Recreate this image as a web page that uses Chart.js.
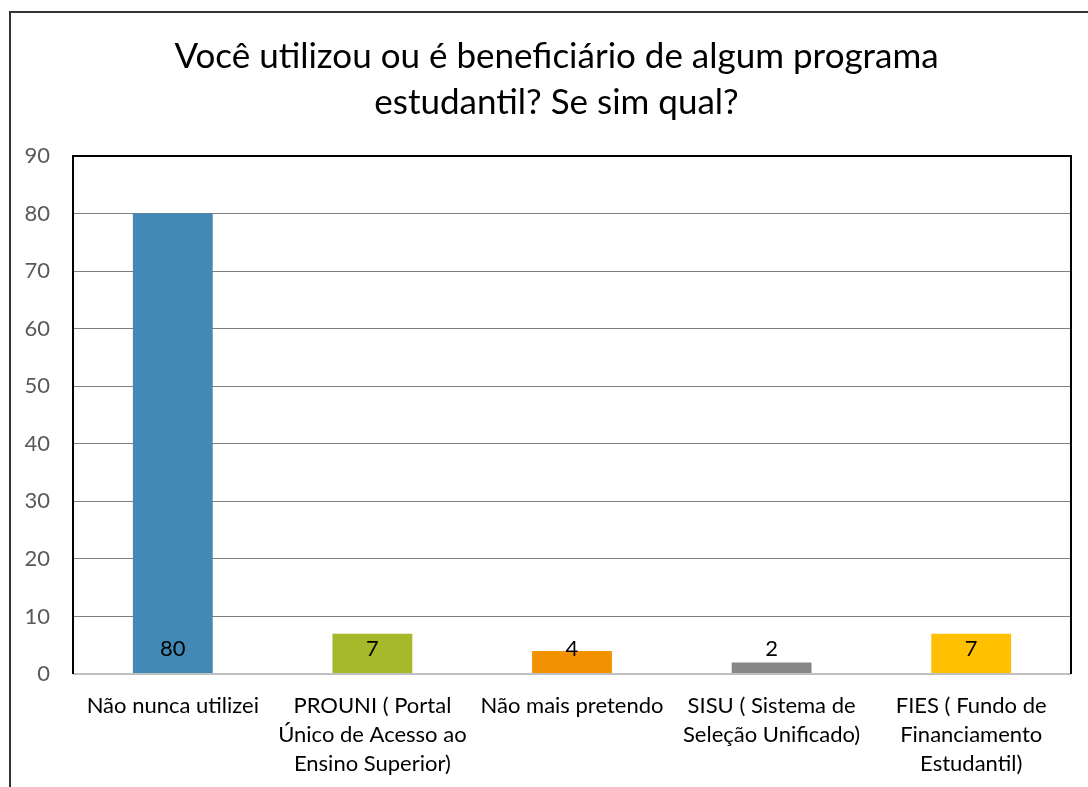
<!DOCTYPE html>
<html><head><meta charset="utf-8">
<script src="https://cdn.jsdelivr.net/npm/chart.js@4.4.0/dist/chart.umd.min.js"></script>
<style>html,body{margin:0;padding:0;background:#fff;}#wrap{width:1088px;height:787px;position:relative;}</style>
</head><body><div id="wrap"><canvas id="c" width="1088" height="787"></canvas></div>
<script>
const categories = [
  "Não nunca utilizei",
  ["PROUNI ( Portal", "Único de Acesso ao", "Ensino Superior)"],
  "Não mais pretendo",
  ["SISU ( Sistema de", "Seleção Unificado)"],
  ["FIES ( Fundo de", "Financiamento", "Estudantil)"]
];
const values = [80, 7, 4, 2, 7];
const barColors = ["#4289B5", "#A5B92A", "#F39200", "#878787", "#FFC000"];
const titleLines = ["Você utilizou ou é beneficiário de algum programa", "estudantil? Se sim qual?"];
const yMin = 0, yMax = 90, yStep = 10;

const FONT = "Lato, 'Open Sans', sans-serif";

const framePlugin = {
  id: 'frame',
  afterLayout(chart) {
    const t = chart.titleBlock;
    if (t) { t.left += 42; t.width -= 42; }
  },
  beforeDraw(chart) {
    const ctx = chart.ctx;
    ctx.save();
    ctx.strokeStyle = '#333';
    ctx.lineWidth = 2;
    ctx.beginPath();
    ctx.moveTo(10, 787);
    ctx.lineTo(10, 12);
    ctx.lineTo(1088, 12);
    ctx.stroke();
    ctx.restore();
  },
  afterDatasetsDraw(chart) {
    const ctx = chart.ctx, a = chart.chartArea;
    ctx.save();
    ctx.strokeStyle = '#BFBFBF';
    ctx.lineWidth = 2;
    ctx.beginPath();
    ctx.moveTo(a.left, a.bottom);
    ctx.lineTo(a.right, a.bottom);
    ctx.stroke();
    ctx.strokeStyle = '#000';
    ctx.lineWidth = 2;
    ctx.beginPath();
    ctx.moveTo(a.left, a.bottom);
    ctx.lineTo(a.left, a.top);
    ctx.lineTo(a.right, a.top);
    ctx.lineTo(a.right, a.bottom);
    ctx.stroke();
    ctx.fillStyle = '#000';
    ctx.font = "22px " + FONT;
    ctx.textAlign = 'center';
    ctx.textBaseline = 'middle';
    const meta = chart.getDatasetMeta(0);
    meta.data.forEach((bar, i) => {
      ctx.fillText(String(values[i]), bar.x, a.bottom - 25);
    });
    ctx.restore();
  }
};

new Chart(document.getElementById('c'), {
  type: 'bar',
  data: {
    labels: categories,
    datasets: [{
      data: values,
      backgroundColor: barColors,
      borderWidth: 0,
      categoryPercentage: 1,
      barPercentage: 0.4
    }]
  },
  options: {
    responsive: false,
    animation: false,
    devicePixelRatio: 1,
    layout: { padding: { left: 0, right: 17, top: 0, bottom: 0 } },
    plugins: {
      legend: { display: false },
      tooltip: { enabled: false },
      title: {
        display: true,
        text: titleLines,
        color: '#000',
        font: { family: FONT, size: 35, weight: 'normal', lineHeight: 1.3 },
        padding: { top: 34, bottom: 31 }
      }
    },
    scales: {
      x: {
        grid: { display: false, drawTicks: false },
        border: { display: false },
        ticks: {
          color: '#000',
          font: { family: FONT, size: 22, lineHeight: 1.3 },
          padding: 18,
          maxRotation: 0,
          autoSkip: false
        },
        afterFit(s) { s.height = 113; }
      },
      y: {
        min: yMin, max: yMax,
        grid: {
          drawTicks: false,
          color: (c) => (c.tick && (c.tick.value === yMin || c.tick.value === yMax)) ? 'rgba(0,0,0,0)' : '#7F7F7F',
          lineWidth: 1
        },
        border: { display: false },
        ticks: {
          stepSize: yStep,
          color: '#595959',
          font: { family: FONT, size: 22 },
          padding: 23
        },
        afterFit(s) { s.width = 73; }
      }
    }
  },
  plugins: [framePlugin]
});
</script></body></html>
